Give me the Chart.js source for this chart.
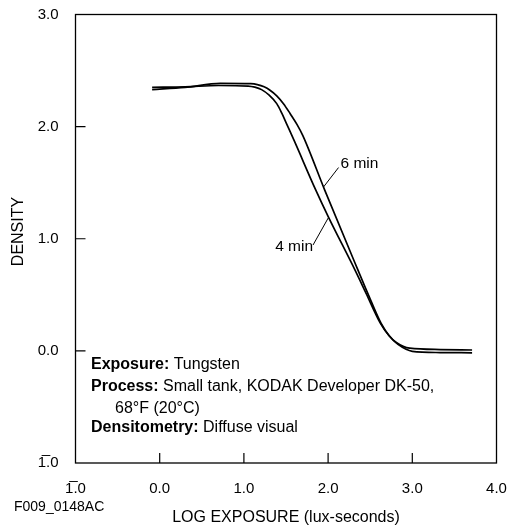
<!DOCTYPE html>
<html><head><meta charset="utf-8">
<script src="https://cdn.jsdelivr.net/npm/chart.js@4"></script>
<style>html,body{margin:0;padding:0;background:#fff;}#wrap{width:509px;height:527px;position:relative}</style>
</head><body><div id="wrap"><canvas id="c"></canvas></div>
<script>
const xTickValues = [-1, 0, 1, 2, 3, 4];
const xTickLabels = ['1\u0305.0', '0.0', '1.0', '2.0', '3.0', '4.0'];
const yTickValues = [-1, 0, 1, 2, 3];
const yTickLabels = ['1\u0305.0', '0.0', '1.0', '2.0', '3.0'];
const seriesNames = ['4 min', '6 min'];
const exposure4 = [-0.09, 0.30, 0.70, 1.05, 1.13, 1.21, 1.30, 1.39, 1.45, 1.51, 1.60, 1.85, 2.00, 2.32, 2.45, 2.62, 2.72, 2.81, 2.97, 3.33, 3.71];
const density4  = [2.35, 2.355, 2.367, 2.362, 2.352, 2.33, 2.28, 2.205, 2.12, 2.02, 1.87, 1.44, 1.2, 0.72, 0.515, 0.248, 0.14, 0.075, 0.024, 0.012, 0.008];
const exposure6 = [-0.09, 0.30, 0.72, 1.08, 1.16, 1.24, 1.31, 1.39, 1.47, 1.55, 1.63, 1.70, 1.96, 2.355, 2.47, 2.63, 2.73, 2.83, 3.00, 3.33, 3.71];
const density6  = [2.33, 2.35, 2.386, 2.383, 2.375, 2.355, 2.325, 2.275, 2.205, 2.115, 2.02, 1.92, 1.434, 0.72, 0.515, 0.244, 0.13, 0.058, -0.004, -0.015, -0.017];
const xTitle = 'LOG EXPOSURE (lux-seconds)';
const yTitle = 'DENSITY';
const figureId = 'F009_0148AC';
const noteLines = [
  ['Exposure:', ' Tungsten'],
  ['Process:', ' Small tank, KODAK Developer DK-50,'],
  ['', '68\u00B0F (20\u00B0C)'],
  ['Densitometry:', ' Diffuse visual']
];

const FONT = "'Liberation Sans', Arial, sans-serif";
function pts(xs, ys) { return xs.map((x, i) => ({x: x, y: ys[i]})); }

const decor = {
  id: 'decor',
  afterDraw(chart) {
    const ctx = chart.ctx, a = chart.chartArea;
    const xs = chart.scales.x, ys = chart.scales.y;
    ctx.save();
    ctx.strokeStyle = '#000';
    ctx.lineWidth = 1.3;
    ctx.strokeRect(a.left, a.top, a.right - a.left, a.bottom - a.top);
    ctx.lineWidth = 1.2;
    ctx.beginPath();
    yTickValues.slice(1, -1).forEach(v => {
      const p = ys.getPixelForValue(v);
      ctx.moveTo(a.left, p); ctx.lineTo(a.left + 10, p);
    });
    xTickValues.slice(1, -1).forEach(v => {
      const p = xs.getPixelForValue(v);
      ctx.moveTo(p, a.bottom); ctx.lineTo(p, a.bottom - 10);
    });
    ctx.stroke();
    // series labels with pointers
    ctx.lineWidth = 1;
    ctx.beginPath();
    ctx.moveTo(xs.getPixelForValue(1.945), ys.getPixelForValue(1.461));
    ctx.lineTo(xs.getPixelForValue(2.124), ys.getPixelForValue(1.635));
    ctx.moveTo(xs.getPixelForValue(2.005), ys.getPixelForValue(1.19));
    ctx.lineTo(xs.getPixelForValue(1.821), ys.getPixelForValue(0.944));
    ctx.stroke();
    ctx.fillStyle = '#000';
    ctx.font = '15.5px ' + FONT;
    ctx.textBaseline = 'alphabetic';
    ctx.textAlign = 'left';
    ctx.fillText(seriesNames[1], xs.getPixelForValue(2.147), ys.getPixelForValue(1.628));
    ctx.textAlign = 'right';
    ctx.fillText(seriesNames[0], xs.getPixelForValue(1.821), ys.getPixelForValue(0.893));
    // notes
    ctx.textAlign = 'left';
    const baselines = [369, 391, 413, 432];
    noteLines.forEach((ln, i) => {
      let x = ln[0] ? 91 : 115;
      if (ln[0]) {
        ctx.font = 'bold 16px ' + FONT;
        ctx.fillText(ln[0], x, baselines[i]);
        x += ctx.measureText(ln[0]).width;
      }
      ctx.font = '16px ' + FONT;
      ctx.fillText(ln[1], x, baselines[i]);
    });
    // y title
    ctx.save();
    ctx.translate(18.5, 231.5);
    ctx.rotate(-Math.PI / 2);
    ctx.font = '16px ' + FONT;
    ctx.textAlign = 'center';
    ctx.textBaseline = 'middle';
    ctx.fillText(yTitle, 0, 0);
    ctx.restore();
    // figure id
    ctx.font = '14px ' + FONT;
    ctx.textAlign = 'left';
    ctx.textBaseline = 'middle';
    ctx.fillText(figureId, 14, 507);
    ctx.restore();
  }
};

new Chart(document.getElementById('c'), {
  type: 'line',
  data: {
    datasets: [
      {label: seriesNames[0], data: pts(exposure4, density4)},
      {label: seriesNames[1], data: pts(exposure6, density6)}
    ].map(d => Object.assign(d, {borderColor: '#000', borderWidth: 1.7, pointRadius: 0, fill: false, cubicInterpolationMode: 'monotone'}))
  },
  options: {
    responsive: true,
    maintainAspectRatio: false,
    animation: false,
    layout: {padding: {left: 0, top: 14.5, right: 12.5, bottom: 0}},
    plugins: {legend: {display: false}, tooltip: {enabled: false}},
    scales: {
      x: {
        type: 'linear', min: -1, max: 4,
        afterBuildTicks(s) { s.ticks = xTickValues.map(v => ({value: v})); },
        ticks: {callback: v => xTickLabels[xTickValues.indexOf(v)], color: '#000', font: {family: FONT, size: 15}, padding: 17, maxRotation: 0, autoSkip: false},
        grid: {display: false, drawTicks: false},
        border: {display: false},
        title: {display: true, text: xTitle, color: '#000', font: {family: FONT, size: 16}, padding: {top: 0, bottom: 0}},
        afterFit(s) { s.height = 64; s.paddingLeft = 0; s.paddingRight = 0; }
      },
      y: {
        type: 'linear', min: -1, max: 3,
        afterBuildTicks(s) { s.ticks = yTickValues.map(v => ({value: v})); },
        ticks: {callback: v => yTickLabels[yTickValues.indexOf(v)], color: '#000', font: {family: FONT, size: 15}, padding: 17},
        grid: {display: false, drawTicks: false},
        border: {display: false},
        afterFit(s) { s.width = 75.5; s.paddingTop = 0; s.paddingBottom = 0; }
      }
    }
  },
  plugins: [decor]
});
</script></body></html>
